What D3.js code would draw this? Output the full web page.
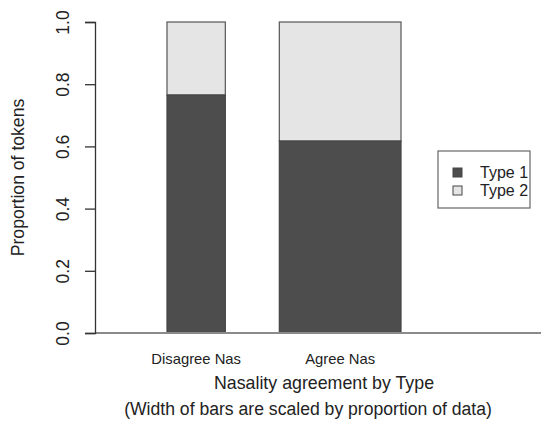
<!DOCTYPE html>
<html>
<head>
    <script src="https://d3js.org/d3.v7.min.js"></script>
    <style>
        body { margin: 0; background: #fff; }
        text { font-family: "Liberation Sans", Arial, sans-serif; fill: #222; }
    </style>
</head>
<body>
    <svg width="541" height="426"></svg>
    <script>
        // data
        var categories = ["Disagree Nas", "Agree Nas"];
        var barWidths = [0.324, 0.676];   // proportion of data
        var type1 = [0.765, 0.617];
        var type2 = [0.235, 0.383];
        var seriesNames = ["Type 1", "Type 2"];
        var seriesColors = ["#4d4d4d", "#e5e5e5"];
        var yTicks = [0, 0.2, 0.4, 0.6, 0.8, 1.0];

        var svg = d3.select("svg");
        var plotLeft = 95, plotTop = 22, plotBottom = 333;
        var space = 0.3;

        var x = d3.scaleLinear().domain([-0.1, 2.4]).range([plotLeft, plotLeft + 2.5 * 180]);
        var y = d3.scaleLinear().domain([0, 1]).range([plotBottom, plotTop]);

        // bar positions in user units
        var bars = [];
        var pos = 0;
        categories.forEach(function(c, i) {
            pos += space;
            bars.push({cat: c, x0: pos, x1: pos + barWidths[i], v1: type1[i], v2: type2[i]});
            pos += barWidths[i];
        });

        var g = svg.append("g");

        bars.forEach(function(b) {
            g.append("rect")
                .attr("x", x(b.x0)).attr("width", x(b.x1) - x(b.x0))
                .attr("y", y(b.v1 + b.v2)).attr("height", y(b.v1) - y(b.v1 + b.v2))
                .attr("fill", seriesColors[1]).attr("stroke", "#555").attr("stroke-width", 1.2);
            g.append("rect")
                .attr("x", x(b.x0)).attr("width", x(b.x1) - x(b.x0))
                .attr("y", y(b.v1)).attr("height", y(0) - y(b.v1))
                .attr("fill", seriesColors[0]).attr("stroke", "#444").attr("stroke-width", 1.2);
            g.append("text")
                .attr("x", (x(b.x0) + x(b.x1)) / 2)
                .attr("y", 364)
                .attr("text-anchor", "middle")
                .attr("font-size", 14.8)
                .text(b.cat);
        });

        // baseline
        g.append("line")
            .attr("x1", plotLeft).attr("x2", 541)
            .attr("y1", y(0)).attr("y2", y(0))
            .attr("stroke", "#8a8a8a").attr("stroke-width", 2);

        // y axis
        var yAxis = d3.axisLeft(y).tickValues(yTicks).tickFormat(d3.format(".1f")).tickSize(10);
        var ya = svg.append("g")
            .attr("transform", "translate(" + plotLeft + ",0)")
            .call(yAxis);
        ya.select(".domain").attr("stroke", "#333").attr("stroke-width", 1.3);
        ya.selectAll(".tick line").attr("stroke", "#333").attr("stroke-width", 1.3);
        ya.selectAll(".tick text")
            .attr("font-family", "Liberation Sans, Arial, sans-serif")
            .attr("font-size", 17.5)
            .attr("fill", "#222")
            .attr("x", null).attr("dy", null)
            .attr("text-anchor", "middle")
            .attr("transform", "translate(-32,0) rotate(-90)")
            .attr("y", 6);

        svg.append("text")
            .attr("transform", "translate(24," + ((plotTop + plotBottom) / 2) + ") rotate(-90)")
            .attr("text-anchor", "middle")
            .attr("font-size", 17.6)
            .text("Proportion of tokens");

        svg.append("text")
            .attr("x", 324).attr("y", 389)
            .attr("text-anchor", "middle")
            .attr("font-size", 17.8)
            .text("Nasality agreement by Type");
        svg.append("text")
            .attr("x", 308).attr("y", 415)
            .attr("text-anchor", "middle")
            .attr("font-size", 17.6)
            .text("(Width of bars are scaled by proportion of data)");

        // legend
        var lg = svg.append("g").attr("transform", "translate(438,151)");
        lg.append("rect").attr("width", 92).attr("height", 57)
            .attr("fill", "#fff").attr("stroke", "#666").attr("stroke-width", 1.2);
        seriesNames.forEach(function(n, i) {
            lg.append("rect")
                .attr("x", 15).attr("y", 17 + i * 18)
                .attr("width", 9).attr("height", 9)
                .attr("fill", seriesColors[i]).attr("stroke", "#444");
            lg.append("text")
                .attr("x", 42).attr("y", 27 + i * 18)
                .attr("font-size", 16)
                .text(n);
        });
    </script>
</body>
</html>
